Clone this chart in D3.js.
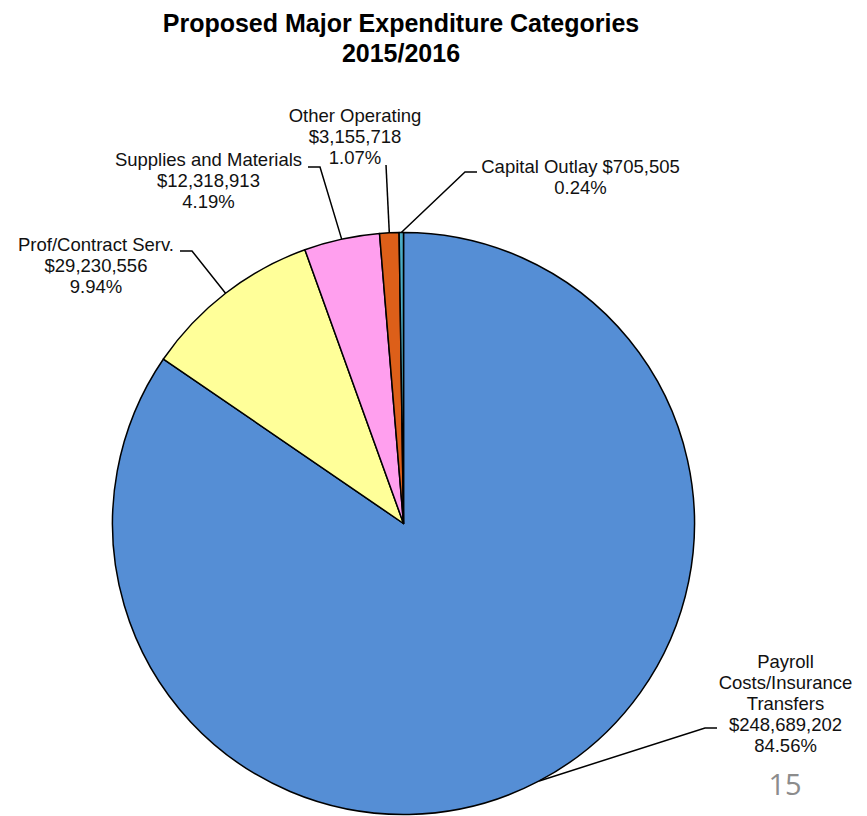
<!DOCTYPE html>
<html>
<head>
<meta charset="utf-8">
<script src="https://cdn.jsdelivr.net/npm/d3@7"></script>
<style>
  html, body { margin: 0; padding: 0; background: #fff; }
  svg { display: block; }
</style>
</head>
<body>
<svg id="chart" width="867" height="816"></svg>
<script>
// Expenditure categories, in drawing order (clockwise from 12 o'clock)
const categories = [
  "Payroll Costs/Insurance Transfers",
  "Prof/Contract Serv.",
  "Supplies and Materials",
  "Other Operating",
  "Capital Outlay"
];
const amounts = [248689202, 29230556, 12318913, 3155718, 705505];
const percents = [84.56, 9.94, 4.19, 1.07, 0.24];
const sliceColors = ["#558ED5", "#FFFF99", "#FF9FEE", "#DD5F19", "#4BACC6"];

// How each category name wraps inside its label
const nameLines = [
  ["Payroll", "Costs/Insurance", "Transfers"],
  ["Prof/Contract Serv."],
  ["Supplies and Materials"],
  ["Other Operating"],
  ["Capital Outlay"]
];
// Whether the amount sits on the same line as the name
const amountInline = [false, false, false, false, true];

const titleLines = ["Proposed Major Expenditure Categories", "2015/2016"];
const pageNumber = "15";

// Layout
const cx = 403.5, cy = 523.5, radius = 291;
const labelFont = "'Liberation Sans', Arial, sans-serif";
const labelSize = 18.5, lineH = 21;

// Label anchor (text centre, first baseline) and leader-line bend points
const labelLayout = [
  { x: 785.5, y: 668, path: [[705, 728], [717, 728]] },
  { x: 96,    y: 251, path: [[192, 251], [180, 251]] },
  { x: 208.5, y: 166, path: [[320, 167], [308, 167]] },
  { x: 355,   y: 122, path: [[386, 165]] },
  { x: 580.5, y: 173, path: [[465, 172], [477, 172]] }
];

const fmtMoney = d => "$" + d3.format(",")(d);
const fmtPct = d => d3.format(".2f")(d) + "%";

const svg = d3.select("#chart");

// Title
svg.append("text")
  .attr("x", 401)
  .attr("y", 32)
  .attr("text-anchor", "middle")
  .style("font-family", labelFont)
  .style("font-weight", "bold")
  .style("font-size", "25px")
  .attr("fill", "#000")
  .selectAll("tspan")
  .data(titleLines)
  .join("tspan")
  .attr("x", 401)
  .attr("dy", (d, i) => i === 0 ? 0 : 30)
  .text(d => d);

const data = categories.map((c, i) => ({
  name: c, amount: amounts[i], pct: percents[i], color: sliceColors[i], idx: i
}));

const pie = d3.pie().sort(null).value(d => d.amount);
const arcs = pie(data);
const arc = d3.arc().innerRadius(0).outerRadius(radius);

const g = svg.append("g").attr("transform", `translate(${cx},${cy})`);

g.selectAll("path.slice")
  .data(arcs)
  .join("path")
  .attr("class", "slice")
  .attr("d", arc)
  .attr("fill", d => d.data.color)
  .attr("stroke", "#000")
  .attr("stroke-width", 1.5)
  .attr("stroke-linejoin", "round");

// Leader lines from each slice's outer edge to its label
const line = d3.line();
svg.append("g")
  .selectAll("path.leader")
  .data(arcs)
  .join("path")
  .attr("class", "leader")
  .attr("fill", "none")
  .attr("stroke", "#000")
  .attr("stroke-width", 1.5)
  .attr("d", d => {
    const a = (d.startAngle + d.endAngle) / 2;
    const start = [cx + radius * Math.sin(a), cy - radius * Math.cos(a)];
    return line([start, ...labelLayout[d.data.idx].path]);
  });

// Labels
const labels = svg.append("g")
  .selectAll("text.label")
  .data(data)
  .join("text")
  .attr("class", "label")
  .attr("text-anchor", "middle")
  .style("font-family", labelFont)
  .style("font-size", labelSize + "px")
  .attr("fill", "#111")
  .attr("x", d => labelLayout[d.idx].x)
  .attr("y", d => labelLayout[d.idx].y);

labels.each(function(d) {
  const lines = nameLines[d.idx].slice();
  if (amountInline[d.idx]) {
    lines[lines.length - 1] += " " + fmtMoney(d.amount);
  } else {
    lines.push(fmtMoney(d.amount));
  }
  lines.push(fmtPct(d.pct));
  d3.select(this).selectAll("tspan")
    .data(lines)
    .join("tspan")
    .attr("x", labelLayout[d.idx].x)
    .attr("dy", (t, i) => i === 0 ? 0 : lineH)
    .text(t => t);
});

// Page number
svg.append("text")
  .attr("x", 785)
  .attr("y", 795)
  .attr("text-anchor", "middle")
  .style("font-family", "'Open Sans', 'Noto Sans', sans-serif")
  .style("font-size", "29px")
  .attr("fill", "#8C8C8C")
  .text(pageNumber);
</script>
</body>
</html>
